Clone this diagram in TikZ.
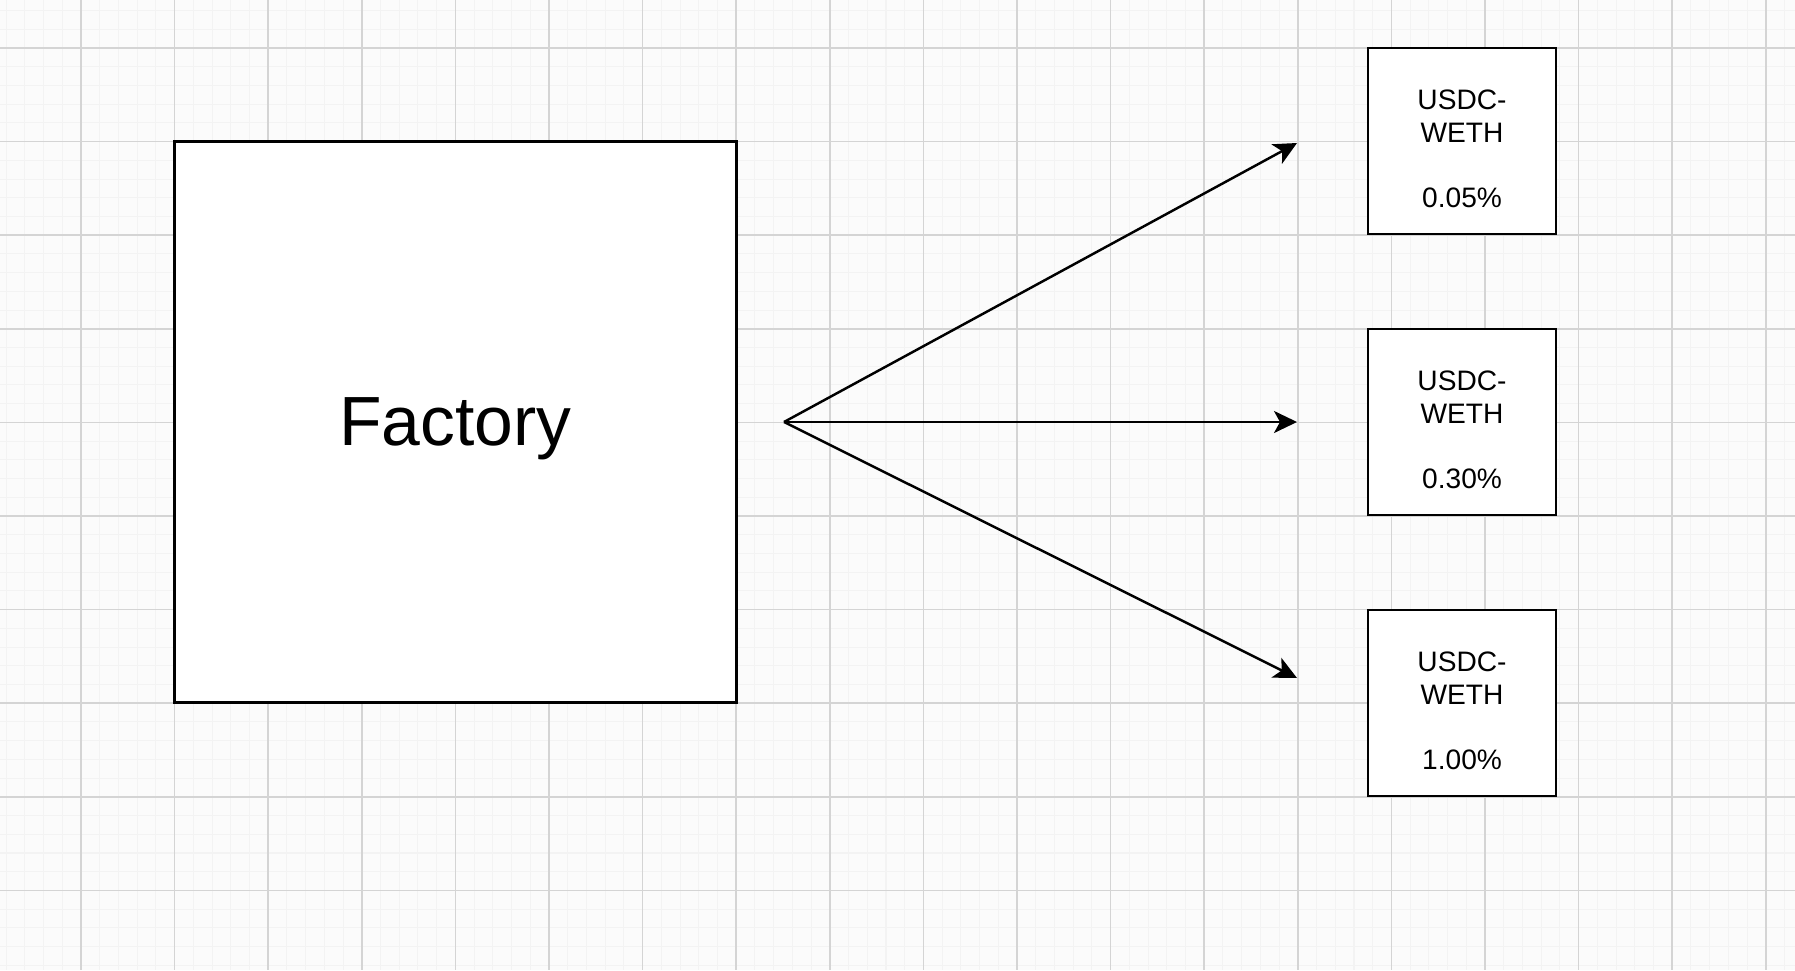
\documentclass[tikz,border=0pt]{standalone}
\usepackage{fontspec}
\setmainfont{Liberation Sans}
\usetikzlibrary{positioning,calc,arrows.meta}
\tikzset{font=\small}
\definecolor{paper}{RGB}{251,251,251}
\definecolor{gridmajor}{RGB}{212,212,212}
\definecolor{gridminor}{RGB}{243,243,243}

\begin{document}
\begin{tikzpicture}[x=0.01cm, y=-0.01cm]
	\useasboundingbox (0,0) rectangle (1795,970);
	\fill[paper] (0,0) rectangle (1795,970);
	% grid
	\foreach \k in {-5,...,92}
		\draw[gridminor, line width=0.3pt] ({81+18.72*\k},0) -- ({81+18.72*\k},970);
	\foreach \k in {-3,...,49}
		\draw[gridminor, line width=0.3pt] (0,{48+18.72*\k}) -- (1795,{48+18.72*\k});
	\foreach \k in {-1,...,18}
		\draw[gridmajor, line width=0.45pt] ({81+93.6*\k},0) -- ({81+93.6*\k},970);
	\foreach \k in {-1,...,9}
		\draw[gridmajor, line width=0.45pt] (0,{48+93.6*\k}) -- (1795,{48+93.6*\k});

	\begin{scope}
		\tikzstyle{block}=[draw, fill=white, line width=0.8pt, inner sep=0pt]
		\tikzstyle{poolbox}=[block, minimum width=1.88cm, minimum height=1.86cm]
		\tikzstyle{pooltext}=[align=center, inner sep=0pt, font=\fontsize{8}{9.25}\selectfont]
		\tikzstyle{arrow}=[line width=0.7pt, -{Stealth[length=2.3mm, width=2.2mm, inset=0.6mm]}]

		\node[block, minimum width=5.61cm, minimum height=5.6cm, text depth=0pt,
			font=\fontsize{19.8}{23}\selectfont] (factory) at (455.5, 422) {Factory};

		\node[poolbox] (pool1) at (1462, 141) {};
		\node[poolbox] (pool2) at (1462, 422) {};
		\node[poolbox] (pool3) at (1462, 703) {};

		\node[pooltext] (fee1) at ($(pool1)+(0,8)$) {USDC-\\WETH\\[9.25pt]0.05\%};
		\node[pooltext] (fee2) at ($(pool2)+(0,8)$) {USDC-\\WETH\\[9.25pt]0.30\%};
		\node[pooltext] (fee3) at ($(pool3)+(0,8)$) {USDC-\\WETH\\[9.25pt]1.00\%};

		\coordinate (fork) at (784, 422);
		\coordinate (tip1) at (1297, 143);
		\coordinate (tip2) at (1297, 422);
		\coordinate (tip3) at (1297, 678);

		\draw[arrow] (fork) -- (tip1);
		\draw[arrow] (fork) -- (tip2);
		\draw[arrow] (fork) -- (tip3);
	\end{scope}
\end{tikzpicture}
\end{document}
